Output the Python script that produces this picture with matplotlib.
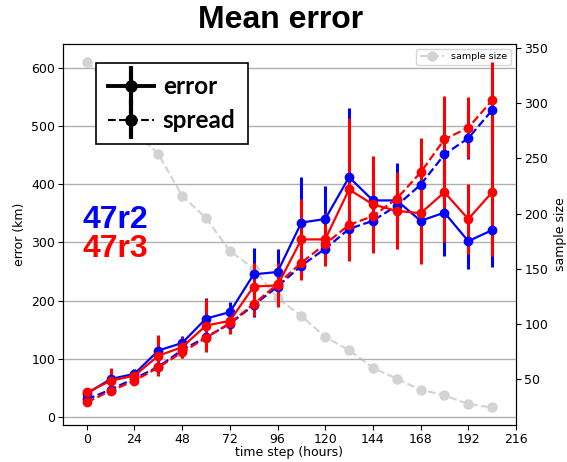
import matplotlib.pyplot as plt
import numpy as np
from matplotlib.legend_handler import HandlerErrorbar

# forecast lead time (hours)
steps = [0, 12, 24, 36, 48, 60, 72, 84, 96, 108, 120, 132, 144, 156, 168, 180, 192, 204]

# 47r2 (blue)
err_r2 = [40, 65, 74, 114, 127, 169, 180, 245, 249, 334, 340, 412, 372, 372, 337, 351, 302, 321]
err_r2_bar = [5, 18, 8, 25, 12, 35, 18, 45, 40, 78, 56, 118, 60, 64, 60, 74, 48, 64]
spr_r2 = [30, 47, 66, 86, 115, 137, 160, 192, 224, 260, 289, 323, 337, 363, 399, 451, 479, 527]
spr_r2_bar = [3, 8, 5, 10, 10, 15, 12, 20, 20, 20, 25, 30, 38, 40, 35, 37, 36, 60]

# 47r3 (red)
err_r3 = [42, 62, 71, 105, 120, 157, 165, 224, 226, 305, 305, 391, 365, 354, 350, 386, 340, 386]
err_r3_bar = [5, 22, 10, 35, 18, 45, 22, 40, 38, 70, 45, 123, 83, 66, 88, 85, 60, 110]
spr_r3 = [25, 45, 62, 85, 111, 136, 161, 194, 228, 265, 297, 330, 345, 375, 420, 477, 497, 544]
spr_r3_bar = [3, 8, 5, 10, 10, 15, 15, 20, 20, 25, 25, 30, 40, 42, 60, 74, 52, 66]

sample_size = [338, 316, 275, 254, 216, 196, 166, 150, 123, 107, 88, 76, 60, 50, 40, 35, 27, 24]

fig = plt.figure(figsize=(5.67, 4.62), dpi=100)
ax = fig.add_axes([0.111, 0.080, 0.799, 0.825])
ax2 = ax.twinx()
# keep the sample size curve behind the error curves
ax.set_zorder(ax2.get_zorder() + 1)
ax.patch.set_visible(False)

ax2.plot(steps, sample_size, '--o', color='#d3d3d3', lw=1.5, ms=6.5, label='sample size')
ax2.set_ylim(8, 354)
ax2.set_ylabel('sample size', fontsize=9)
ax2.tick_params(labelsize=9, pad=2.5)
ax2.legend(loc='upper right', fontsize=6.8, borderpad=0.4, handlelength=2.5)

kw = dict(marker='o', ms=6, lw=1.6, elinewidth=2.2, capsize=0)
ax.errorbar(steps, err_r2, yerr=err_r2_bar, color='blue', ls='-', **kw)
ax.errorbar(steps, spr_r2, yerr=spr_r2_bar, color='blue', ls='--', **kw)
ax.errorbar(steps, err_r3, yerr=err_r3_bar, color='red', ls='-', **kw)
ax.errorbar(steps, spr_r3, yerr=spr_r3_bar, color='red', ls='--', **kw)

# black dummy handles for the legend
h1 = ax.errorbar([np.nan], [np.nan], yerr=[1], color='black', ls='-', marker='o',
                 ms=8, lw=2.8, elinewidth=3, capsize=0, label='error')
h2 = ax.errorbar([np.nan], [np.nan], yerr=[1], color='black', ls='--', marker='o',
                 ms=8, lw=1.5, elinewidth=3, capsize=0, label='spread')
leg = ax.legend(handles=[h1, h2], loc='upper left', bbox_to_anchor=(0.073, 0.950),
                borderaxespad=0, prop={'family': 'Lato', 'weight': 'bold', 'size': 17.5},
                fancybox=False, edgecolor='black', framealpha=1,
                handlelength=1.9, handletextpad=0.35, borderpad=0.5, labelspacing=0.45,
                handler_map={type(h1): HandlerErrorbar(yerr_size=0.8)})
leg.get_frame().set_linewidth(1.2)

ax.text(0.044, 0.538, '47r2', transform=ax.transAxes, color='blue', fontsize=23,
        fontweight='bold', family='Liberation Sans', va='center')
ax.text(0.044, 0.462, '47r3', transform=ax.transAxes, color='red', fontsize=23,
        fontweight='bold', family='Liberation Sans', va='center')

ax.set_xlim(-12, 216)
ax.set_ylim(-14, 641)
ax.set_xticks(range(0, 217, 24))
ax.tick_params(labelsize=9, pad=2)
ax.yaxis.grid(True, color='#b0b0b0', lw=1)
ax.set_xlabel('time step (hours)', fontsize=9, labelpad=0.5)
ax.set_ylabel('error (km)', fontsize=9)

fig.text(0.494, 0.957, 'Mean error', ha='center', va='center', fontsize=23,
         fontweight='bold', family='Liberation Sans')

fig.savefig('out.png', dpi=100)
